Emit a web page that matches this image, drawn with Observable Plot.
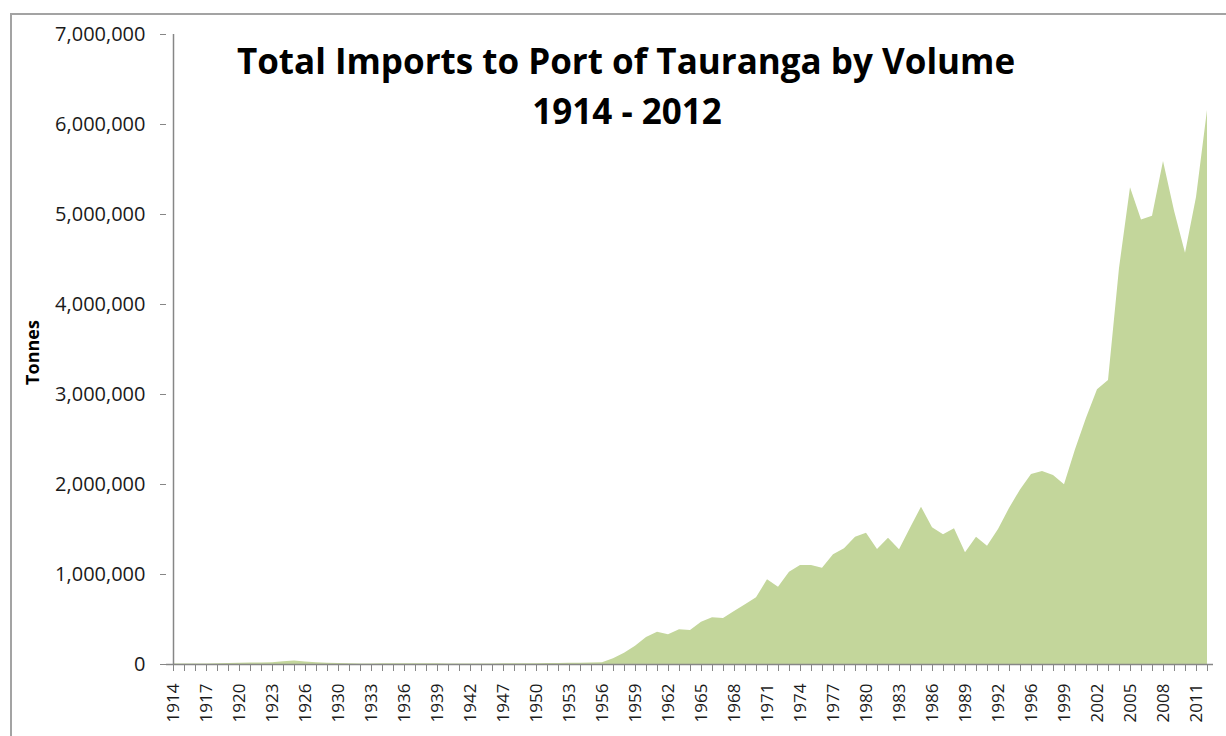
<!DOCTYPE html>
<html>
<head>
<meta charset="utf-8">
<script src="https://cdn.jsdelivr.net/npm/d3@7"></script>
<script src="https://cdn.jsdelivr.net/npm/@observablehq/plot@0.6"></script>
<style>
  html, body { margin: 0; padding: 0; background: #fff; overflow: hidden; }
  #wrap { position: relative; width: 1226px; height: 736px; overflow: hidden; }
  #border { position: absolute; left: 10px; top: 13px; width: 1400px; height: 900px; border: 2px solid #a3a3a3; box-sizing: border-box; }
  #chart { position: absolute; left: 0; top: 0; }
</style>
</head>
<body>
<div id="wrap"><div id="border"></div><div id="chart"></div></div>
<script>
const years = [
  1914,1915,1916,1917,1918,1919,1920,1921,1922,1923,1924,1925,1926,1927,1928,
  1930,1931,1932,1933,1934,1935,1936,1937,1938,1939,1940,1941,1942,
  1945,1946,
  1947,1948,1949,1950,1951,1952,1953,1954,1955,1956,1957,1958,1959,1960,
  1961,1962,1963,1964,1965,1966,1967,1968,1969,1970,1971,1972,1973,1974,
  1975,1976,1977,1978,1979,1980,1981,1982,1983,1984,1985,1986,1987,1988,
  1989,1990,1991,1992,1993,
  1995,
  1996,1997,1998,1999,2000,2001,2002,2003,2004,2005,2006,2007,2008,2009,
  2010,2011,2012
];
const tonnes = [
  5000,6000,5000,6000,7000,12000,15000,18000,16000,20000,30000,38000,28000,20000,15000,
  10000,7000,6000,6000,7000,7000,8000,8000,8000,7000,6000,6000,5000,
  5000,6000,
  7000,8000,8000,9000,10000,11000,13000,15000,17000,20000,63000,126000,203000,300000,
  359000,330000,385000,378000,470000,519000,511000,589000,663000,741000,941000,859000,1025000,1100000,
  1100000,1070000,1219000,1285000,1415000,1459000,1278000,1404000,1274000,1515000,1748000,1519000,1441000,1507000,
  1241000,1415000,1315000,1500000,1733000,
  1940000,
  2110000,2144000,2100000,1996000,2385000,2737000,3052000,3156000,4400000,5297000,4940000,4980000,5590000,5040000,
  4570000,5190000,6156000
];
const xTickLabels = [1914,1917,1920,1923,1926,1930,1933,1936,1939,1942,1947,1950,1953,1956,1959,1962,1965,1968,1971,1974,1977,1980,1983,1986,1989,1992,1996,1999,2002,2005,2008,2011];
const yTicks = [0,1000000,2000000,3000000,4000000,5000000,6000000,7000000];
const titleLines = ["Total Imports to Port of Tauranga by Volume", "1914 - 2012"];
const yLabel = "Tonnes";

const data = years.map((year, i) => ({year, value: tonnes[i]}));

const chart = Plot.plot({
  width: 1226,
  height: 736,
  marginLeft: 166,
  marginRight: 13,
  marginTop: 34,
  marginBottom: 72,
  style: {fontFamily: "'Open Sans', sans-serif", background: "transparent", color: "#1a1a1a", overflow: "visible"},
  x: {type: "point", domain: years, padding: 0},
  y: {domain: [0, 7000000]},
  marks: [
    Plot.areaY(data, {x: "year", y: "value", fill: "#c3d69b"}),
    Plot.ruleX([years[0]], {stroke: "#868686", strokeWidth: 1.5}),
    Plot.ruleY([0], {stroke: "#868686", strokeWidth: 1.5}),
    Plot.axisY({ticks: yTicks, tickSize: 6, tickPadding: 15, tickFormat: d3.format(","), fontSize: 20, stroke: "#868686", label: null}),
    Plot.axisX({ticks: years, tickSize: 7, tickFormat: () => "", stroke: "#868686", label: null}),
    Plot.axisX({ticks: xTickLabels, tickSize: 0, tickPadding: 19, tickRotate: -90, tickFormat: d => String(d), fontSize: 17, label: null}),
    Plot.text([titleLines[0]], {text: d => d, frameAnchor: "top", textAnchor: "middle", lineAnchor: "bottom", dx: -64, dy: 39, fontSize: 35, fontWeight: "bold", fill: "#000"}),
    Plot.text([titleLines[1]], {text: d => d, frameAnchor: "top", textAnchor: "middle", lineAnchor: "bottom", dx: -63, dy: 89, fontSize: 35, fontWeight: "bold", fill: "#000"}),
    Plot.text([yLabel], {text: d => d, frameAnchor: "left", textAnchor: "middle", lineAnchor: "middle", rotate: -90, dx: -133, dy: 3, fontSize: 18, fontWeight: "bold", fill: "#000"})
  ]
});
document.getElementById("chart").appendChild(chart);
</script>
</body>
</html>
